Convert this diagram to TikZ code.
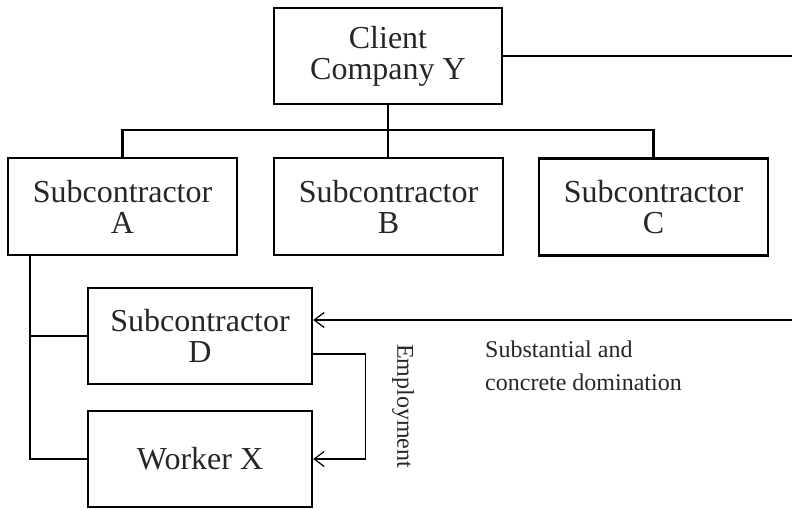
\documentclass[tikz,border=0pt]{standalone}
\usepackage{fontspec}
\setmainfont{Liberation Serif}
\usetikzlibrary{arrows.meta,calc}
\begin{document}
\begin{tikzpicture}[x=1pt,y=-1pt,
  box/.style={draw,line width=2.4pt,rectangle,inner sep=0pt,align=center,
    font=\fontsize{32}{31}\selectfont,text=black!85},
  tree/.style={line width=2.4pt},
  thin/.style={line width=1.2pt},
  arr/.style={thin,-{Straight Barb[length=10pt,width=15pt,line width=1.2pt]}},
  lbl/.style={inner sep=0pt,font=\fontsize{24}{33}\selectfont,text=black!85}]
\useasboundingbox (0,0) rectangle (792,509);
\node[box,minimum width=228,minimum height=96] (client) at (388,56) {Client\\Company Y};
\node[box,minimum width=229,minimum height=97] (A) at (122.5,206.5) {Subcontractor\\A};
\node[box,minimum width=229,minimum height=97] (B) at (388.5,206.5) {Subcontractor\\B};
\node[box,minimum width=229,minimum height=97] (C) at (653.5,207) {Subcontractor\\C};
\node[box,minimum width=224,minimum height=96] (D) at (200,336) {Subcontractor\\D};
\node[box,minimum width=224,minimum height=96] (X) at (200,459) {Worker X};
% tree connectors
\draw[tree] (client.south) -- (client.south |- B.north);
\draw[tree] (A.north) -- ++(0,-27) -| (C.north);
\coordinate (aL) at ($(A.south west)+(23,0)$);
\draw[tree] (aL) |- (X.west);
\draw[tree] (aL |- D.west) -- (D.west);
% domination line
\coordinate (re1) at (792,56);
\coordinate (re2) at (792,320);
\draw[thin] (client.east) -- (re1);
\draw[arr] (re2) -- (D.east |- re2);
% employment
\coordinate (emp) at ($(D.east)+(0,18)$);
\draw[arr] (emp) -- ++(52,0) |- (X.east);
\node[lbl,rotate=-90] (emplbl) at (403,406) {Employment};
\node[lbl,anchor=north west,align=left] (dom) at (485,341) {Substantial and\\concrete domination};
\end{tikzpicture}
\end{document}
